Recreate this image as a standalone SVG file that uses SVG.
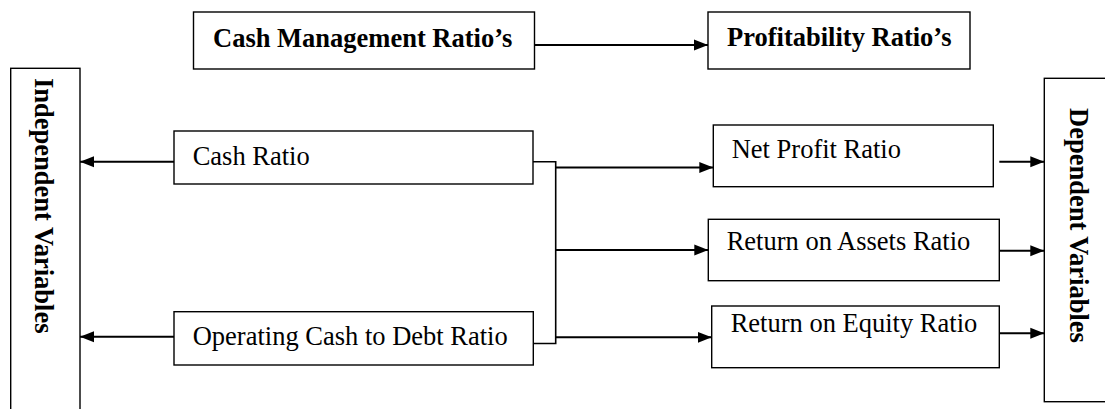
<svg xmlns="http://www.w3.org/2000/svg" width="1105" height="409" viewBox="0 0 1105 409">
<style>
  .box { fill: #fff; stroke: #000; stroke-width: 1.4; }
  .t { font-family: "Liberation Serif", "Times New Roman", serif; font-size: 26.5px; fill: #000; }
  .b { font-weight: bold; }
  .ln { fill: none; stroke: #000; stroke-width: 1.6; }
  .ar { fill: none; stroke: #000; stroke-width: 2; marker-end: url(#ah); }
</style>
<defs>
  <marker id="ah" markerUnits="userSpaceOnUse" markerWidth="16" markerHeight="12" refX="14" refY="6" orient="auto">
    <path d="M0,0.5 L14,6 L0,11.5 Z" fill="#000"/>
  </marker>
</defs>
<rect width="1105" height="409" fill="#fff"/>
<g id="cash-management">
  <rect class="box" x="193.5" y="12" width="341" height="57"/>
  <text class="t b" x="213" y="47">Cash Management Ratio’s</text>
</g>
<g id="profitability">
  <rect class="box" x="708" y="12" width="262" height="57"/>
  <text class="t b" x="727" y="46">Profitability Ratio’s</text>
</g>
<g id="independent">
  <rect class="box" x="10.7" y="68.3" width="69.3" height="360"/>
  <text class="t b" transform="translate(35,78) rotate(90)">Independent Variables</text>
</g>
<g id="dependent">
  <rect class="box" x="1044.3" y="78.3" width="80" height="323.4"/>
  <text class="t b" transform="translate(1070,108) rotate(90)">Dependent Variables</text>
</g>
<g id="cash-ratio">
  <rect class="box" x="174" y="131" width="359" height="53"/>
  <text class="t" x="192.7" y="165">Cash Ratio</text>
</g>
<g id="operating-cash">
  <rect class="box" x="174" y="311.7" width="359.3" height="53.3"/>
  <text class="t" x="192.7" y="345">Operating Cash to Debt Ratio</text>
</g>
<g id="net-profit">
  <rect class="box" x="713.3" y="125" width="280" height="61.7"/>
  <text class="t" x="731.7" y="158.3">Net Profit Ratio</text>
</g>
<g id="roa">
  <rect class="box" x="708.3" y="219.3" width="291" height="61.4"/>
  <text class="t" x="726.7" y="250">Return on Assets Ratio</text>
</g>
<g id="roe">
  <rect class="box" x="711.7" y="306" width="287.6" height="61.7"/>
  <text class="t" x="730.7" y="331.7">Return on Equity Ratio</text>
</g>
<g id="connectors">
  <line class="ar" x1="534.5" y1="45" x2="708" y2="45"/>
  <line class="ar" x1="174" y1="161.7" x2="80" y2="161.7"/>
  <line class="ar" x1="174" y1="336.7" x2="80" y2="336.7"/>
  <polyline class="ln" points="533,161.7 555.7,161.7 555.7,343.5 533.3,343.5"/>
  <line class="ar" x1="555.7" y1="167.5" x2="713.3" y2="167.5"/>
  <line class="ar" x1="555.7" y1="250" x2="708.3" y2="250"/>
  <line class="ar" x1="555.7" y1="337.3" x2="711.7" y2="337.3"/>
  <line class="ar" x1="999.3" y1="161.7" x2="1044.3" y2="161.7"/>
  <line class="ar" x1="999.3" y1="250.7" x2="1044.3" y2="250.7"/>
  <line class="ar" x1="999.3" y1="333.3" x2="1044.3" y2="333.3"/>
</g>
</svg>
